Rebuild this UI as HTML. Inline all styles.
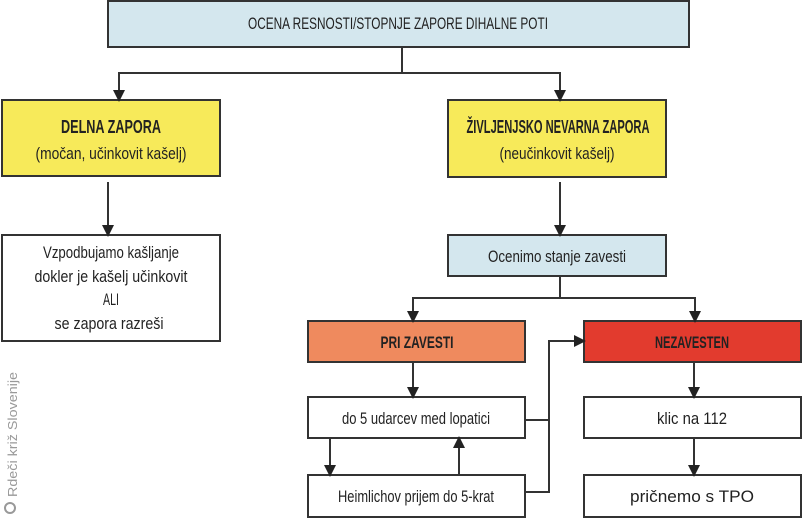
<!DOCTYPE html>
<html><head><meta charset="utf-8"><style>
html,body{margin:0;padding:0;background:#fff;}
svg{display:block;}
text{font-family:"Liberation Sans",sans-serif;fill:#222;text-anchor:middle;}
.b{font-weight:bold;}
</style></head><body>
<svg width="802" height="518" viewBox="0 0 802 518" xmlns="http://www.w3.org/2000/svg">
<defs><marker id="a" markerWidth="12" markerHeight="12" refX="6" refY="6" orient="auto" markerUnits="userSpaceOnUse"><path d="M0,0 L12,6 L0,12 z" fill="#222"/></marker></defs>
<g stroke="#333" stroke-width="2" fill="none">
<rect x="108" y="1" width="581" height="46" fill="#d4e7ee"/>
<rect x="2" y="100" width="218" height="76" fill="#f7ea5a"/>
<rect x="448" y="100" width="218" height="77" fill="#f7ea5a"/>
<rect x="2" y="235" width="218" height="106" fill="#fff"/>
<rect x="448" y="235" width="218" height="41" fill="#d4e7ee"/>
<rect x="308" y="321" width="217" height="41" fill="#ef8a5e"/>
<rect x="584" y="321" width="217" height="41" fill="#e23b2e"/>
<rect x="308" y="397" width="217" height="41" fill="#fff"/>
<rect x="308" y="475" width="217" height="42" fill="#fff"/>
<rect x="584" y="397" width="217" height="41" fill="#fff"/>
<rect x="584" y="475" width="217" height="42" fill="#fff"/>
<polyline points="402,47 402,73 119,73 119,96" marker-end="url(#a)"/>
<polyline points="402,73 560,73 560,96" marker-end="url(#a)"/>
<line x1="108" y1="182" x2="108" y2="231" marker-end="url(#a)"/>
<line x1="560" y1="182" x2="560" y2="231" marker-end="url(#a)"/>
<polyline points="560,276 560,298 413,298 413,317" marker-end="url(#a)"/>
<polyline points="560,298 695,298 695,317" marker-end="url(#a)"/>
<line x1="413" y1="362" x2="413" y2="393" marker-end="url(#a)"/>
<line x1="330" y1="438" x2="330" y2="471" marker-end="url(#a)"/>
<line x1="459" y1="475" x2="459" y2="442" marker-end="url(#a)"/>
<polyline points="525,420 549,420"/>
<polyline points="525,492 549,492 549,341 580,341" marker-end="url(#a)"/>
<line x1="694" y1="362" x2="694" y2="393" marker-end="url(#a)"/>
<line x1="694" y1="438" x2="694" y2="471" marker-end="url(#a)"/>
</g>
<text x="398" y="29" font-size="17" textLength="300" lengthAdjust="spacingAndGlyphs">OCENA RESNOSTI/STOPNJE ZAPORE DIHALNE POTI</text>
<text x="111" y="133" font-size="18" class="b" textLength="100" lengthAdjust="spacingAndGlyphs">DELNA ZAPORA</text>
<text x="111" y="159" font-size="17" textLength="151" lengthAdjust="spacingAndGlyphs">(močan, učinkovit kašelj)</text>
<text x="558" y="133" font-size="18" class="b" textLength="183" lengthAdjust="spacingAndGlyphs">ŽIVLJENJSKO NEVARNA ZAPORA</text>
<text x="557" y="159" font-size="17" textLength="115" lengthAdjust="spacingAndGlyphs">(neučinkovit kašelj)</text>
<text x="111" y="258" font-size="17" textLength="136" lengthAdjust="spacingAndGlyphs">Vzpodbujamo kašljanje</text>
<text x="111" y="282" font-size="17" textLength="153" lengthAdjust="spacingAndGlyphs">dokler je kašelj učinkovit</text>
<text x="111" y="305" font-size="17" textLength="16" lengthAdjust="spacingAndGlyphs">ALI</text>
<text x="109" y="329" font-size="17" textLength="109" lengthAdjust="spacingAndGlyphs">se zapora razreši</text>
<text x="557" y="262" font-size="17" textLength="138" lengthAdjust="spacingAndGlyphs">Ocenimo stanje zavesti</text>
<text x="417" y="348" font-size="17" class="b" textLength="73" lengthAdjust="spacingAndGlyphs">PRI ZAVESTI</text>
<text x="692" y="348" font-size="17" class="b" textLength="74" lengthAdjust="spacingAndGlyphs">NEZAVESTEN</text>
<text x="416" y="424" font-size="17" textLength="148" lengthAdjust="spacingAndGlyphs">do 5 udarcev med lopatici</text>
<text x="416" y="502" font-size="17" textLength="156" lengthAdjust="spacingAndGlyphs">Heimlichov prijem do 5-krat</text>
<text x="692" y="424" font-size="17" textLength="70" lengthAdjust="spacingAndGlyphs">klic na 112</text>
<text x="692" y="502" font-size="17" textLength="124" lengthAdjust="spacingAndGlyphs">pričnemo s TPO</text>
<text x="0" y="0" font-size="13" style="fill:#999;text-anchor:start" textLength="125" lengthAdjust="spacingAndGlyphs" transform="translate(17,497) rotate(-90)">Rdeči križ Slovenije</text>
<circle cx="10" cy="508" r="5" fill="none" stroke="#999" stroke-width="2"/>
</svg>
</body></html>
